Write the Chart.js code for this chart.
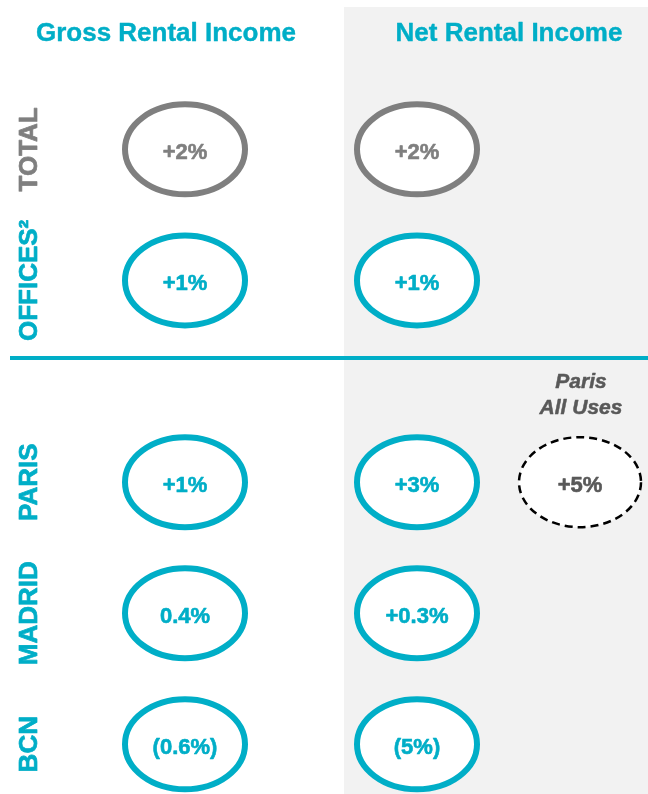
<!DOCTYPE html>
<html>
<head>
<meta charset="utf-8">
<script src="https://cdn.jsdelivr.net/npm/chart.js@4"></script>
<style>
  html, body { margin: 0; padding: 0; background: #fff; }
  #wrap { position: relative; width: 648px; height: 794px; }
</style>
</head>
<body>
<div id="wrap"><canvas id="chart"></canvas></div>
<script>
const columns = ["Gross Rental Income", "Net Rental Income"];
const sideColumn = ["Paris All Uses"];
const totalRows = ["TOTAL", "OFFICES²"];
const cityRows = ["PARIS", "MADRID", "BCN"];

// like-for-like change, as printed in the bubbles
const grossTotal = ["+2%", "+1%"];
const netTotal = ["+2%", "+1%"];
const grossCity = ["+1%", "0.4%", "(0.6%)"];
const netCity = ["+3%", "+0.3%", "(5%)"];
const parisAllUses = ["+5%"];

const TEAL = "#00aec7";
const GRAY = "#7f7f7f";
const DARK = "#595959";
const PANEL = "#f2f2f2";
const FONT = "'Liberation Sans', Arial, sans-serif";

function points(col, rows) {
  return rows.map((r, i) => ({ x: col, y: i }));
}

function rowColor(r) {
  return r === "TOTAL" ? GRAY : TEAL;
}

// bold text with a hairline outline, the source glyphs are a bit heavier
function heavyText(ctx, text, x, y, color, weight) {
  ctx.fillStyle = color;
  ctx.strokeStyle = color;
  ctx.lineWidth = weight;
  ctx.lineJoin = "round";
  ctx.setLineDash([]);
  ctx.fillText(text, x, y);
  ctx.strokeText(text, x, y);
}

const backdrop = {
  id: "backdrop",
  beforeDraw(chart) {
    const { ctx } = chart;
    const yCity = chart.scales.yCity;
    ctx.save();
    ctx.fillStyle = PANEL;
    ctx.fillRect(344, 7, chart.width - 344, chart.height - 7);

    // divider between totals and cities
    ctx.strokeStyle = TEAL;
    ctx.lineWidth = 4;
    ctx.beginPath();
    ctx.moveTo(10, yCity.top - 1);
    ctx.lineTo(chart.width, yCity.top - 1);
    ctx.stroke();

    // column titles
    ctx.font = "bold 26px " + FONT;
    ctx.textAlign = "center";
    ctx.textBaseline = "middle";
    heavyText(ctx, columns[0], 166, 34, TEAL, 0.4);
    heavyText(ctx, columns[1], 509, 34, TEAL, 0.4);

    // side column header
    const x2 = chart.scales.x2;
    const s = sideColumn[0];
    const cut = s.indexOf(" ");
    ctx.font = "italic bold 21px " + FONT;
    ctx.textBaseline = "alphabetic";
    const sx = x2.getPixelForValue(0);
    heavyText(ctx, s.slice(0, cut), sx + 1, yCity.top + 29, DARK, 0.5);
    heavyText(ctx, s.slice(cut + 1), sx + 1, yCity.top + 55, DARK, 0.5);

    // row labels, rotated
    ctx.font = "bold 26px " + FONT;
    ctx.textAlign = "center";
    [["yTotal", totalRows], ["yCity", cityRows]].forEach(([id, rows]) => {
      const sc = chart.scales[id];
      rows.forEach((r, i) => {
        ctx.save();
        ctx.translate(37, sc.getPixelForValue(i));
        ctx.rotate(-Math.PI / 2);
        heavyText(ctx, r, 0, 0, rowColor(r), 0.7);
        ctx.restore();
      });
    });
    ctx.restore();
  },
};

const bubbles = {
  id: "bubbles",
  afterDatasetsDraw(chart) {
    const { ctx } = chart;
    chart.data.datasets.forEach((ds, di) => {
      const meta = chart.getDatasetMeta(di);
      meta.data.forEach((pt, i) => {
        const color = Array.isArray(ds.borderColor) ? ds.borderColor[i] : ds.borderColor;
        ctx.save();
        ctx.beginPath();
        if (ds.dashed) {
          ctx.ellipse(pt.x, pt.y, 61, 45, 0, 0, Math.PI * 2);
        } else {
          ctx.ellipse(pt.x, pt.y, 60, 45, 0, 0, Math.PI * 2);
        }
        ctx.fillStyle = "#fff";
        ctx.fill();
        ctx.lineWidth = ds.dashed ? 2.5 : 6;
        ctx.setLineDash(ds.dashed ? [8, 5] : []);
        ctx.strokeStyle = color;
        ctx.stroke();
        ctx.font = "bold 22px " + FONT;
        ctx.textAlign = "center";
        ctx.textBaseline = "alphabetic";
        heavyText(ctx, ds.text[i], pt.x, pt.y + 10, ds.textColor || color, 0.6);
        ctx.restore();
      });
    });
  },
};

new Chart(document.getElementById("chart"), {
  type: "scatter",
  data: {
    datasets: [
      {
        label: "Gross – totals",
        data: points(columns[0], totalRows),
        text: grossTotal,
        borderColor: totalRows.map(rowColor),
        xAxisID: "x",
        yAxisID: "yTotal",
      },
      {
        label: "Net – totals",
        data: points(columns[1], totalRows),
        text: netTotal,
        borderColor: totalRows.map(rowColor),
        xAxisID: "x",
        yAxisID: "yTotal",
      },
      {
        label: "Gross – cities",
        data: points(columns[0], cityRows),
        text: grossCity,
        borderColor: cityRows.map(rowColor),
        xAxisID: "x",
        yAxisID: "yCity",
      },
      {
        label: "Net – cities",
        data: points(columns[1], cityRows),
        text: netCity,
        borderColor: cityRows.map(rowColor),
        xAxisID: "x",
        yAxisID: "yCity",
      },
      {
        label: sideColumn[0],
        data: [{ x: sideColumn[0], y: 0 }],
        text: parisAllUses,
        borderColor: "#000",
        textColor: DARK,
        dashed: true,
        xAxisID: "x2",
        yAxisID: "yCity",
      },
    ],
  },
  options: {
    responsive: true,
    maintainAspectRatio: false,
    animation: false,
    events: [],
    elements: { point: { radius: 0, hoverRadius: 0 } },
    layout: { padding: { left: 69, right: 21, top: 0, bottom: 0 } },
    plugins: {
      legend: { display: false },
      tooltip: { enabled: false },
    },
    scales: {
      x: {
        type: "category",
        labels: columns,
        offset: true,
        display: false,
        position: "bottom",
        stack: "cols",
        stackWeight: 464,
        weight: 0,
      },
      x2: {
        type: "category",
        labels: sideColumn,
        offset: true,
        display: false,
        position: "bottom",
        stack: "cols",
        stackWeight: 94,
        weight: 1,
      },
      yTotal: {
        type: "linear",
        reverse: true,
        min: -1.14,
        max: 1.6,
        bounds: "data",
        display: false,
        position: "left",
        stack: "rows",
        stackWeight: 2.74,
        weight: 1,
      },
      yCity: {
        type: "linear",
        reverse: true,
        min: -0.94,
        max: 2.38,
        bounds: "data",
        display: false,
        position: "left",
        stack: "rows",
        stackWeight: 3.32,
        weight: 0,
      },
    },
  },
  plugins: [backdrop, bubbles],
});
</script>
</body>
</html>
